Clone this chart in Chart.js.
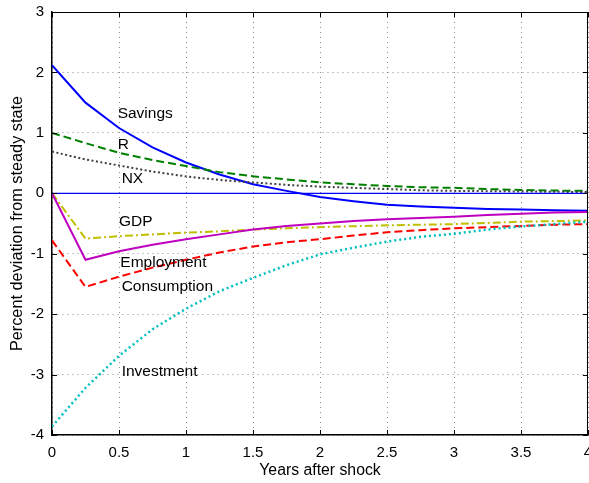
<!DOCTYPE html>
<html>
<head>
<meta charset="utf-8">
<script src="https://cdn.jsdelivr.net/npm/chart.js@4"></script>
<style>
  html, body { margin: 0; padding: 0; background: #fff; }
  #wrap { width: 589px; height: 483px; }
</style>
</head>
<body>
<div id="wrap"><canvas id="c" width="589" height="483"></canvas></div>
<script>
// Impulse responses, quarterly, in years after the shock
const years = [0, 0.25, 0.5, 0.75, 1, 1.25, 1.5, 1.75, 2, 2.25, 2.5, 2.75, 3, 3.25, 3.5, 3.75, 4];

const savings     = [2.12, 1.50, 1.08, 0.76, 0.51, 0.31, 0.15, 0.04, -0.06, -0.13, -0.19, -0.22, -0.24, -0.26, -0.27, -0.28, -0.29];
const rate        = [1.00, 0.83, 0.67, 0.55, 0.45, 0.35, 0.28, 0.23, 0.18, 0.15, 0.12, 0.10, 0.09, 0.07, 0.055, 0.045, 0.04];
const netExports  = [0.69, 0.56, 0.46, 0.36, 0.28, 0.22, 0.18, 0.14, 0.11, 0.09, 0.07, 0.05, 0.04, 0.035, 0.03, 0.025, 0.02];
const gdp         = [0, -0.75, -0.71, -0.68, -0.65, -0.63, -0.60, -0.58, -0.56, -0.545, -0.53, -0.52, -0.51, -0.49, -0.47, -0.46, -0.45];
const employment  = [0, -1.10, -0.96, -0.85, -0.76, -0.68, -0.60, -0.54, -0.50, -0.46, -0.43, -0.41, -0.39, -0.36, -0.34, -0.32, -0.31];
const consumption = [-0.78, -1.55, -1.38, -1.23, -1.10, -0.98, -0.88, -0.81, -0.76, -0.70, -0.645, -0.61, -0.58, -0.56, -0.54, -0.52, -0.51];
const investment  = [-3.86, -3.22, -2.69, -2.25, -1.91, -1.62, -1.40, -1.19, -1.01, -0.90, -0.80, -0.72, -0.67, -0.60, -0.55, -0.51, -0.47];
const zeroLine    = [0, 0, 0, 0, 0, 0, 0, 0, 0, 0, 0, 0, 0, 0, 0, 0, 0];

// Axis ticks
const xTicks = [0, 0.5, 1, 1.5, 2, 2.5, 3, 3.5, 4];
const yTicks = [-4, -3, -2, -1, 0, 1, 2, 3];

// Series names written next to their curves (left edge x, baseline y, in data units)
const seriesNames  = ['Savings', 'R', 'NX', 'GDP', 'Employment', 'Consumption', 'Investment'];
const nameAnchorX  = [0.49, 0.49, 0.52, 0.50, 0.51, 0.52, 0.52];
const nameAnchorY  = [1.25, 0.73, 0.17, -0.54, -1.22, -1.62, -3.02];

const pts = ys => years.map((x, i) => ({ x, y: ys[i] }));

const FONT = '"Liberation Sans", Arial, Helvetica, sans-serif';
Chart.defaults.font.family = FONT;
Chart.defaults.font.size = 15;
Chart.defaults.color = '#000';

const line = (label, ys, color, dash, width) => ({
  label, data: pts(ys), borderColor: color, backgroundColor: color,
  borderWidth: width, borderDash: dash, pointRadius: 0, tension: 0, fill: false
});

// Box around the plot with inward tick marks, plus the curve names
const frame = {
  id: 'frame',
  afterDatasetsDraw(chart) {
    const { ctx, chartArea: a, scales: { x, y } } = chart;
    ctx.save();
    ctx.strokeStyle = '#000';
    ctx.lineWidth = 1;
    ctx.beginPath();
    ctx.moveTo(a.left, a.top + 0.5); ctx.lineTo(a.right, a.top + 0.5);
    ctx.moveTo(a.right - 0.5, a.top); ctx.lineTo(a.right - 0.5, a.bottom);
    const tl = 5;
    xTicks.forEach(v => {
      const px = Math.round(x.getPixelForValue(v)) + 0.5;
      ctx.moveTo(px, a.bottom); ctx.lineTo(px, a.bottom - tl);
      ctx.moveTo(px, a.top); ctx.lineTo(px, a.top + tl);
    });
    yTicks.forEach(v => {
      const py = Math.round(y.getPixelForValue(v)) + 0.5;
      ctx.moveTo(a.left, py); ctx.lineTo(a.left + tl, py);
      ctx.moveTo(a.right, py); ctx.lineTo(a.right - tl, py);
    });
    ctx.stroke();

    ctx.fillStyle = '#000';
    ctx.font = '15.5px ' + FONT;
    ctx.textAlign = 'left';
    ctx.textBaseline = 'alphabetic';
    seriesNames.forEach((name, i) => {
      ctx.fillText(name, x.getPixelForValue(nameAnchorX[i]), y.getPixelForValue(nameAnchorY[i]));
    });
    ctx.restore();
  }
};

new Chart(document.getElementById('c'), {
  type: 'line',
  data: {
    datasets: [
      line('zero', zeroLine, '#0000ff', [], 1.3),
      line('Investment', investment, '#00bfbf', [2, 3], 2.5),
      line('Consumption', consumption, '#ff0000', [8, 4], 2),
      line('Employment', employment, '#bf00bf', [], 2),
      line('GDP', gdp, '#bfbf00', [8, 3, 2, 3], 2),
      line('NX', netExports, '#404040', [2, 2.5], 2),
      line('R', rate, '#008000', [8, 4], 2),
      line('Savings', savings, '#0000ff', [], 2)
    ]
  },
  options: {
    responsive: false,
    animation: false,
    layout: { padding: { top: 12, right: 1, left: 0, bottom: 0 } },
    plugins: { legend: { display: false }, tooltip: { enabled: false } },
    scales: {
      x: {
        type: 'linear', min: 0, max: 4,
        afterBuildTicks: s => { s.ticks = xTicks.map(v => ({ value: v })); },
        afterFit: s => { s.height = 48; s.paddingLeft = 0; s.paddingRight = 0; },
        ticks: { padding: 9, maxRotation: 0, autoSkip: false, font: { size: 15 }, callback: v => String(v) },
        grid: { color: 'rgba(0,0,0,0.45)', lineWidth: 1, drawTicks: false },
        border: { display: true, color: '#000', width: 1.5, dash: [1, 4] },
        title: { display: true, text: 'Years after shock', font: { size: 15.8 }, padding: { top: 0, bottom: 3 } }
      },
      y: {
        type: 'linear', min: -4, max: 3,
        afterBuildTicks: s => { s.ticks = yTicks.map(v => ({ value: v })); },
        afterFit: s => { s.width = 52; s.paddingTop = 0; s.paddingBottom = 0; },
        ticks: { padding: 8, autoSkip: false, font: { size: 15 }, callback: v => String(v) },
        grid: { color: 'rgba(0,0,0,0.45)', lineWidth: 1, drawTicks: false },
        border: { display: true, color: '#000', width: 1.5, dash: [1, 4] },
        title: { display: true, text: 'Percent deviation from steady state', font: { size: 16.3 }, padding: { top: 8, bottom: 0 } }
      }
    }
  },
  plugins: [frame]
});
</script>
</body>
</html>
